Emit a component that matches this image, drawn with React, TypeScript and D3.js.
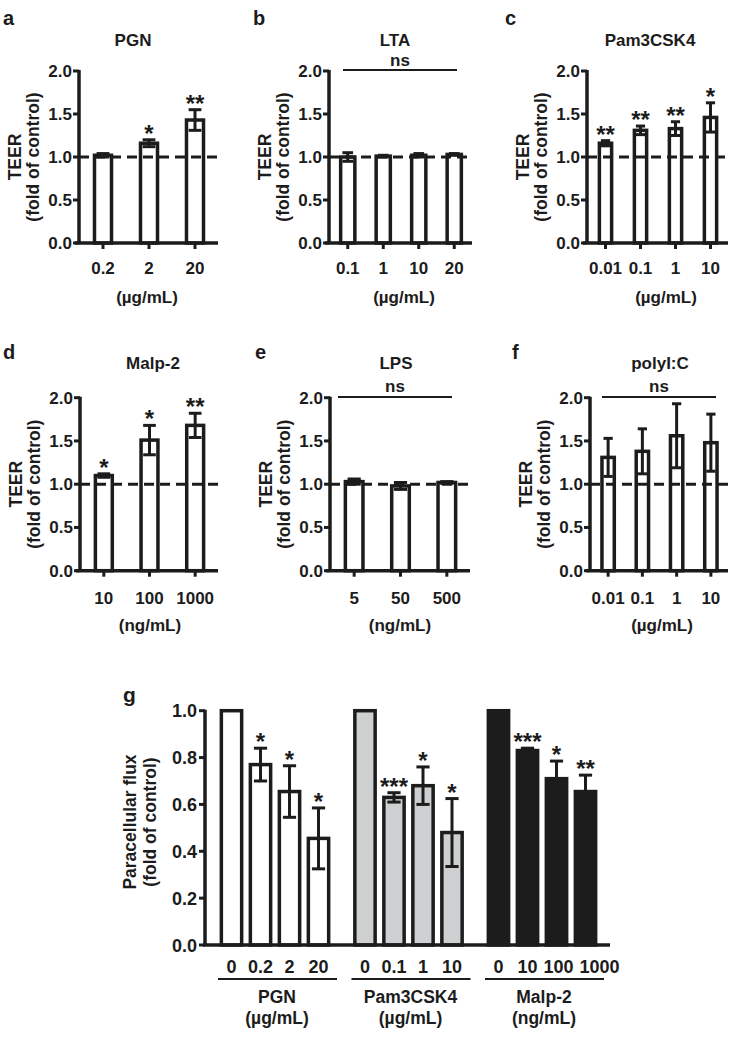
import React from "react";
import * as d3 from "d3";

const FONT = "'Liberation Sans', Arial, Helvetica, sans-serif";
const INK = "#1c1c1c";

// ---------- TEER panels (a-f) ----------
const teerTicks = [0, 0.5, 1.0, 1.5, 2.0];

const pgnDoses = ["0.2", "2", "20"];
const pgnTeer = [1.02, 1.16, 1.43];
const pgnTeerErr = [0.02, 0.04, 0.12];
const pgnSig = ["", "*", "**"];

const ltaDoses = ["0.1", "1", "10", "20"];
const ltaTeer = [1.0, 1.01, 1.02, 1.03];
const ltaTeerErr = [0.05, 0.01, 0.02, 0.01];
const ltaSig = ["", "", "", ""];

const pamDoses = ["0.01", "0.1", "1", "10"];
const pamTeer = [1.16, 1.31, 1.33, 1.46];
const pamTeerErr = [0.03, 0.05, 0.08, 0.17];
const pamSig = ["**", "**", "**", "*"];

const malpDoses = ["10", "100", "1000"];
const malpTeer = [1.1, 1.51, 1.68];
const malpTeerErr = [0.02, 0.17, 0.14];
const malpSig = ["*", "*", "**"];

const lpsDoses = ["5", "50", "500"];
const lpsTeer = [1.03, 0.98, 1.02];
const lpsTeerErr = [0.03, 0.04, 0.01];
const lpsSig = ["", "", ""];

const polyDoses = ["0.01", "0.1", "1", "10"];
const polyTeer = [1.31, 1.38, 1.56, 1.48];
const polyTeerErr = [0.22, 0.26, 0.37, 0.33];
const polySig = ["", "", "", ""];

// ---------- Paracellular flux (g) ----------
const fluxGroups = ["PGN", "Pam3CSK4", "Malp-2"];
const fluxUnits = ["(µg/mL)", "(µg/mL)", "(ng/mL)"];
const fluxDoses = [
  ["0", "0.2", "2", "20"],
  ["0", "0.1", "1", "10"],
  ["0", "10", "100", "1000"],
];
const fluxMeans = [
  [1.0, 0.77, 0.655, 0.455],
  [1.0, 0.63, 0.68, 0.48],
  [1.0, 0.83, 0.71, 0.655],
];
const fluxErrs = [
  [0, 0.07, 0.11, 0.13],
  [0, 0.02, 0.08, 0.145],
  [0, 0.01, 0.075, 0.07],
];
const fluxSig = [
  ["", "*", "*", "*"],
  ["", "***", "*", "*"],
  ["", "***", "*", "**"],
];
const fluxTicks = [0, 0.2, 0.4, 0.6, 0.8, 1.0];
const fluxFills = ["#ffffff", "#cdcfd1", "#1c1c1c"];

const ROW1 = { yTop: 71, yBase: 243, titleY: 46, tickY: 274, unitY: 303, nsY: 66, nsLineY: 70, letterY: 25 };
const ROW2 = { yTop: 397.7, yBase: 570.7, titleY: 369, tickY: 604, unitY: 631, nsY: 392, nsLineY: 397, letterY: 359 };

const panels = [
  { letter: "a", title: "PGN", doses: pgnDoses, means: pgnTeer, errs: pgnTeerErr, sig: pgnSig, unit: "(µg/mL)", ns: false,
    row: ROW1, axisX: 79, axisEnd: 218, pad: 0.63, letterX: 3, titleX: 133, unitX: 147 },
  { letter: "b", title: "LTA", doses: ltaDoses, means: ltaTeer, errs: ltaTeerErr, sig: ltaSig, unit: "(µg/mL)", ns: true,
    row: ROW1, axisX: 329, axisEnd: 472, pad: 0.6, letterX: 253, titleX: 395, unitX: 404, nsX0: 343, nsX1: 457 },
  { letter: "c", title: "Pam3CSK4", doses: pamDoses, means: pamTeer, errs: pamTeerErr, sig: pamSig, unit: "(µg/mL)", ns: false,
    row: ROW1, axisX: 587, axisEnd: 728, pad: 0.65, letterX: 505, titleX: 650, unitX: 666 },
  { letter: "d", title: "Malp-2", doses: malpDoses, means: malpTeer, errs: malpTeerErr, sig: malpSig, unit: "(ng/mL)", ns: false,
    row: ROW2, axisX: 80, axisEnd: 218, pad: 0.63, letterX: 3, titleX: 153, unitX: 150 },
  { letter: "e", title: "LPS", doses: lpsDoses, means: lpsTeer, errs: lpsTeerErr, sig: lpsSig, unit: "(ng/mL)", ns: true,
    row: ROW2, axisX: 330, axisEnd: 470, pad: 0.62, letterX: 255, titleX: 396, unitX: 400, nsX0: 338, nsX1: 452 },
  { letter: "f", title: "polyI:C", doses: polyDoses, means: polyTeer, errs: polyTeerErr, sig: polySig, unit: "(µg/mL)", ns: true,
    row: ROW2, axisX: 590, axisEnd: 728, pad: 0.64, letterX: 512, titleX: 660, unitX: 662, nsX0: 602, nsX1: 716 },
];

const FS = 17;
const STAR = 24;

function TeerPanel({ p }: { p: any }) {
  const r = p.row;
  const y = d3.scaleLinear().domain([0, 2]).range([r.yBase, r.yTop]);
  const x = d3
    .scaleBand<string>()
    .domain(p.doses)
    .range([p.axisX + 1, p.axisEnd])
    .paddingInner(p.pad)
    .paddingOuter(p.pad / 2);
  const bw = x.bandwidth();
  const cap = bw * 0.75;
  const midY = (r.yTop + r.yBase) / 2;
  return (
    <g>
      <text x={p.letterX} y={r.letterY} fontSize={20} fontWeight="bold" fill={INK}>{p.letter}</text>
      <text x={p.titleX} y={r.titleY} fontSize={FS} fontWeight="bold" textAnchor="middle" fill={INK}>{p.title}</text>
      {p.ns && (
        <g>
          <line x1={p.nsX0} x2={p.nsX1} y1={r.nsLineY} y2={r.nsLineY} stroke={INK} strokeWidth={2} />
          <text x={(p.nsX0 + p.nsX1) / 2} y={r.nsY} fontSize={FS} fontWeight="bold" textAnchor="middle" fill={INK}>ns</text>
        </g>
      )}
      {p.doses.map((d: string, i: number) => (
        <rect key={"b" + d} x={x(d)} y={y(p.means[i])} width={bw} height={y(0) - y(p.means[i])}
          fill="#fff" stroke={INK} strokeWidth={3.5} />
      ))}
      <line x1={p.axisX} x2={p.axisEnd} y1={y(1)} y2={y(1)} stroke={INK} strokeWidth={3} strokeDasharray="10,6" />
      {p.doses.map((d: string, i: number) => {
        const cx = (x(d) as number) + bw / 2;
        const hi = y(p.means[i] + p.errs[i]);
        const lo = y(p.means[i] - p.errs[i]);
        return (
          <g key={"e" + d} stroke={INK} strokeWidth={3}>
            <line x1={cx} x2={cx} y1={hi} y2={lo} />
            <line x1={cx - cap / 2} x2={cx + cap / 2} y1={hi} y2={hi} />
            <line x1={cx - cap / 2} x2={cx + cap / 2} y1={lo} y2={lo} />
          </g>
        );
      })}
      {p.doses.map((d: string, i: number) =>
        p.sig[i] ? (
          <text key={"s" + d} x={(x(d) as number) + bw / 2} y={y(p.means[i] + p.errs[i]) + 2}
            fontSize={STAR} fontWeight="bold" textAnchor="middle" fill={INK}>{p.sig[i]}</text>
        ) : null
      )}
      {/* axes */}
      <line x1={p.axisX} x2={p.axisX} y1={r.yTop - 1} y2={r.yBase} stroke={INK} strokeWidth={3.5} />
      <line x1={p.axisX - 4} x2={p.axisEnd} y1={r.yBase} y2={r.yBase} stroke={INK} strokeWidth={3.5} />
      {teerTicks.map((t) => (
        <g key={"t" + t}>
          <line x1={p.axisX - 6} x2={p.axisX} y1={y(t)} y2={y(t)} stroke={INK} strokeWidth={3} />
          <text x={p.axisX - 7} y={y(t) + 6} fontSize={FS} fontWeight="bold" textAnchor="end" fill={INK}>
            {d3.format(".1f")(t)}
          </text>
        </g>
      ))}
      {p.doses.map((d: string) => {
        const cx = (x(d) as number) + bw / 2;
        return (
          <g key={"x" + d}>
            <line x1={cx} x2={cx} y1={r.yBase} y2={r.yBase + 6} stroke={INK} strokeWidth={3} />
            <text x={cx} y={r.tickY} fontSize={FS} fontWeight="bold" textAnchor="middle" fill={INK}>{d}</text>
          </g>
        );
      })}
      <text x={p.unitX} y={r.unitY} fontSize={FS} fontWeight="bold" textAnchor="middle" fill={INK}>{p.unit}</text>
      <text transform={`translate(${p.axisX - 58},${midY}) rotate(-90)`} fontSize={17.5} fontWeight="bold"
        textAnchor="middle" fill={INK}>TEER</text>
      <text transform={`translate(${p.axisX - 40},${midY}) rotate(-90)`} fontSize={17.5} fontWeight="bold"
        textAnchor="middle" fill={INK}>(fold of control)</text>
    </g>
  );
}

function FluxPanel() {
  const axisX = 205;
  const axisEnd = 610;
  const yBase = 945;
  const yTop = 710.7;
  const GFS = 18;
  const y = d3.scaleLinear().domain([0, 1]).range([yBase, yTop]);
  const gx = d3.scaleBand<string>().domain(fluxGroups).range([217, 600]).paddingInner(0.131).paddingOuter(0);
  const idx = [0, 1, 2, 3].map(String);
  const bx = d3.scaleBand<string>().domain(idx).range([0, gx.bandwidth()]).paddingInner(0.3).paddingOuter(0.15);
  const bw = bx.bandwidth();
  const cap = bw * 0.65;
  const midY = 822;
  return (
    <g>
      <text x={123} y={702} fontSize={21} fontWeight="bold" fill={INK}>g</text>
      {fluxGroups.map((g, gi) => {
        const g0 = gx(g) as number;
        // tick label centres, nudged right only where neighbouring labels would collide
        let prevRight = -Infinity;
        const labelX = fluxDoses[gi].map((d, i) => {
          const cx = g0 + (bx(String(i)) as number) + bw / 2;
          const w = d.length * 0.556 * GFS;
          let left = cx - w / 2;
          if (left < prevRight + 6) left = prevRight + 6;
          prevRight = left + w;
          return left + w / 2;
        });
        return (
          <g key={g}>
            {fluxDoses[gi].map((d, i) => {
              const bxx = g0 + (bx(String(i)) as number);
              return (
                <rect key={"r" + i} x={bxx} y={y(fluxMeans[gi][i])} width={bw}
                  height={y(0) - y(fluxMeans[gi][i])} fill={fluxFills[gi]} stroke={INK} strokeWidth={3.5} />
              );
            })}
            {fluxDoses[gi].map((d, i) => {
              if (!fluxErrs[gi][i]) return null;
              const cx = g0 + (bx(String(i)) as number) + bw / 2;
              const hi = y(fluxMeans[gi][i] + fluxErrs[gi][i]);
              const lo = y(fluxMeans[gi][i] - fluxErrs[gi][i]);
              return (
                <g key={"e" + i} stroke={INK} strokeWidth={3}>
                  <line x1={cx} x2={cx} y1={hi} y2={lo} />
                  <line x1={cx - cap / 2} x2={cx + cap / 2} y1={hi} y2={hi} />
                  <line x1={cx - cap / 2} x2={cx + cap / 2} y1={lo} y2={lo} />
                </g>
              );
            })}
            {fluxDoses[gi].map((d, i) => {
              const cx = g0 + (bx(String(i)) as number) + bw / 2;
              return (
                <g key={"l" + i}>
                  {fluxSig[gi][i] ? (
                    <text x={cx} y={y(fluxMeans[gi][i] + fluxErrs[gi][i]) + 2} fontSize={STAR} fontWeight="bold"
                      textAnchor="middle" fill={INK}>{fluxSig[gi][i]}</text>
                  ) : null}
                  <text x={labelX[i]} y={973} fontSize={GFS} fontWeight="bold" textAnchor="middle" fill={INK}>{d}</text>
                </g>
              );
            })}
            <line x1={g0 + 1} x2={g0 + gx.bandwidth() + 4} y1={979} y2={979} stroke={INK} strokeWidth={2} />
            <text x={g0 + gx.bandwidth() / 2 + 2} y={1003} fontSize={17.5} fontWeight="bold" textAnchor="middle" fill={INK}>{g}</text>
            <text x={g0 + gx.bandwidth() / 2 + 2} y={1024} fontSize={17.5} fontWeight="bold" textAnchor="middle" fill={INK}>{fluxUnits[gi]}</text>
          </g>
        );
      })}
      <line x1={axisX} x2={axisX} y1={yTop - 1} y2={yBase} stroke={INK} strokeWidth={3.5} />
      <line x1={axisX - 2} x2={axisEnd} y1={yBase} y2={yBase} stroke={INK} strokeWidth={3.5} />
      {fluxTicks.map((t) => (
        <g key={"t" + t}>
          <line x1={axisX - 6} x2={axisX} y1={y(t)} y2={y(t)} stroke={INK} strokeWidth={3} />
          <text x={axisX - 8} y={y(t) + 6.5} fontSize={GFS} fontWeight="bold" textAnchor="end" fill={INK}>
            {d3.format(".1f")(t)}
          </text>
        </g>
      ))}
      <text transform={`translate(136,${midY}) rotate(-90)`} fontSize={17.5} fontWeight="bold" textAnchor="middle" fill={INK}>
        Paracellular flux
      </text>
      <text transform={`translate(156,${midY}) rotate(-90)`} fontSize={17.5} fontWeight="bold" textAnchor="middle" fill={INK}>
        (fold of control)
      </text>
    </g>
  );
}

export default function App() {
  return (
    <svg width={739} height={1050} style={{ position: "absolute", left: 0, top: 0 }} fontFamily={FONT}>
      <rect width={739} height={1050} fill="#fff" />
      {panels.map((p) => (
        <TeerPanel key={p.letter} p={p} />
      ))}
      <FluxPanel />
    </svg>
  );
}
